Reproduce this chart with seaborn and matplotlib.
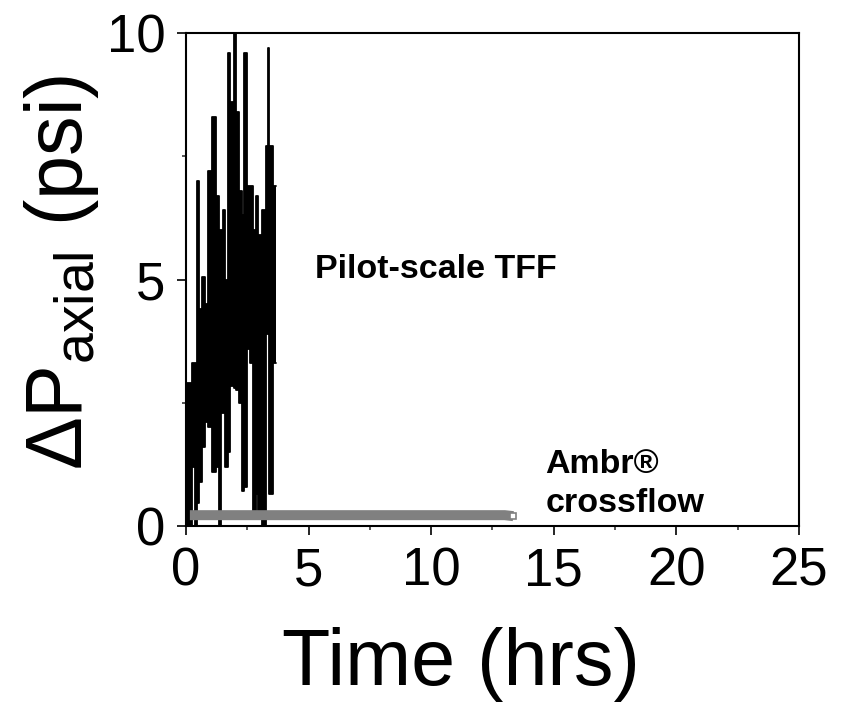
import matplotlib
matplotlib.use("Agg")
import matplotlib.pyplot as plt
import seaborn as sns
import pandas as pd
from matplotlib.ticker import MultipleLocator

# ---- data ----
# Pilot-scale TFF: noisy trace, given as step segments (start times) with upper/lower extent
pilot_t = [0.00, 0.23, 0.37, 0.435, 0.52, 0.65, 0.78, 0.91, 1.05, 1.22, 1.36, 1.43,
           1.50, 1.59, 1.73, 1.80, 1.97, 2.04, 2.18, 2.27, 2.38, 2.48, 2.61, 2.72,
           2.86, 2.95, 3.09, 3.25, 3.33, 3.40, 3.54, 3.66]
pilot_hi = [2.9, 3.3, 3.3, 7.0, 4.4, 5.05, 4.5, 7.2, 8.3, 6.7, 6.0, 6.0, 6.4, 5.0,
            9.6, 8.6, 10.0, 8.4, 6.8, 6.3, 9.6, 6.9, 6.9, 6.0, 6.7, 5.9, 6.4, 7.7,
            9.7, 7.7, 6.9]
pilot_lo = [0.0, 1.2, 0.0, 0.47, 0.9, 1.6, 2.1, 2.0, 1.1, 1.2, 0.0, 2.3, 2.3, 1.2,
            1.5, 2.85, 2.8, 2.75, 2.5, 0.7, 0.8, 3.6, 3.3, 0.3, 0.65, 0.2, 0.0, 3.9,
            3.9, 0.65, 3.3]

# Ambr crossflow
ambr_t = [0.16, 1.0, 2.0, 3.0, 4.0, 5.0, 6.0, 7.0, 8.0, 9.0, 10.0, 11.0, 12.0, 13.0, 13.35]
ambr_dp = [0.22, 0.22, 0.22, 0.22, 0.22, 0.22, 0.22, 0.22, 0.22, 0.22, 0.22, 0.22, 0.22, 0.22, 0.20]

x_ticks = [0, 5, 10, 15, 20, 25]
y_ticks = [0, 5, 10]

# ---- style ----
sns.set_theme(style="ticks")
plt.rcParams["font.family"] = ["Liberation Sans", "DejaVu Sans"]
plt.rcParams["mathtext.fontset"] = "custom"
plt.rcParams["mathtext.rm"] = "Liberation Sans"
plt.rcParams["mathtext.it"] = "Liberation Sans:italic"
plt.rcParams["text.color"] = "black"
plt.rcParams["axes.labelcolor"] = "black"

fig = plt.figure(figsize=(8.43, 7.07), dpi=100)
ax = fig.add_axes([0.2206, 0.256, 0.7272, 0.6973])

# Pilot-scale trace
hi_full = pilot_hi + [pilot_hi[-1]]
lo_full = pilot_lo + [pilot_lo[-1]]
ax.fill_between(pilot_t, lo_full, hi_full, step="post", color="black", linewidth=0)
pilot_df = pd.DataFrame({"t": pilot_t, "hi": hi_full, "lo": lo_full})
sns.lineplot(data=pilot_df, x="t", y="hi", ax=ax, color="black", lw=1.3,
             drawstyle="steps-post", estimator=None, sort=False)
sns.lineplot(data=pilot_df, x="t", y="lo", ax=ax, color="black", lw=1.3,
             drawstyle="steps-post", estimator=None, sort=False)

# Ambr crossflow trace
ambr_df = pd.DataFrame({"t": ambr_t, "dp": ambr_dp})
sns.lineplot(data=ambr_df, x="t", y="dp", ax=ax, color="#808080", lw=7.2,
             estimator=None, sort=False, solid_capstyle="butt")
ax.plot(ambr_t[-1:], ambr_dp[-1:], marker="s", ms=5, mfc="white", mec="#808080",
        mew=1.2, ls="none")

# Annotations
ax.text(5.27, 5.03, "Pilot-scale TFF", fontsize=24.5, fontweight="bold",
        ha="left", va="baseline", color="black")
ax.text(14.65, 1.075, "Ambr®", fontsize=24.5, fontweight="bold",
        ha="left", va="baseline", color="black")
ax.text(14.65, 0.28, "crossflow", fontsize=24.5, fontweight="bold",
        ha="left", va="baseline", color="black")

# Axes
ax.set_xlim(0, 25)
ax.set_ylim(0, 10)
ax.set_xticks(x_ticks)
ax.set_yticks(y_ticks)
ax.set_xticklabels([str(v) for v in x_ticks])
ax.set_yticklabels([str(v) for v in y_ticks])
ax.xaxis.set_minor_locator(MultipleLocator(2.5))
ax.yaxis.set_minor_locator(MultipleLocator(2.5))
ax.tick_params(which="major", direction="out", length=6.3, width=1.2, pad=8.5,
               labelsize=38, colors="black", labelcolor="black", top=False, right=False)
ax.tick_params(which="minor", direction="out", length=3.2, width=1.1,
               top=False, right=False)
for s in ax.spines.values():
    s.set_visible(True)
    s.set_linewidth(1.5)
    s.set_color("black")

ax.set_xlabel("Time (hrs)", fontsize=57, color="black")
ax.set_ylabel(r"ΔP$_{\mathregular{axial}}$ (psi)", fontsize=57, color="black")
ax.xaxis.set_label_coords(0.449, -0.205)
ax.yaxis.set_label_coords(-0.139, 0.514)

fig.savefig("out.png", dpi=100, facecolor="white")
